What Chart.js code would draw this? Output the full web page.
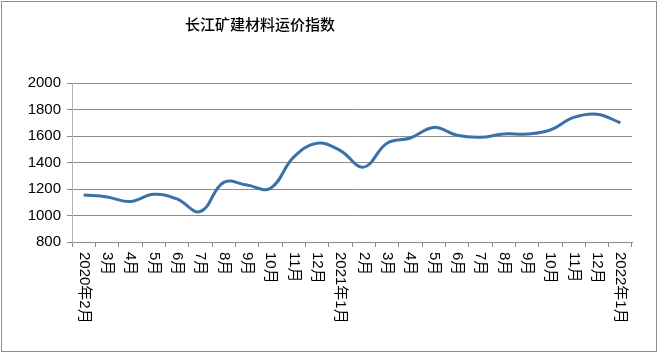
<!DOCTYPE html>
<html>
<head>
<meta charset="utf-8">
<script src="https://cdn.jsdelivr.net/npm/chart.js@4"></script>
<style>
  html, body { margin: 0; padding: 0; background: #fff; }
  #wrap { width: 662px; height: 354px; position: relative; }
</style>
</head>
<body>
<div id="wrap"><canvas id="myChart"></canvas></div>
<script>
var months = ['2020年2月', '3月', '4月', '5月', '6月', '7月', '8月', '9月', '10月', '11月', '12月',
              '2021年1月', '2月', '3月', '4月', '5月', '6月', '7月', '8月', '9月', '10月', '11月', '12月',
              '2022年1月'];
var freightIndex = [1155, 1140, 1105, 1160, 1125, 1030, 1250, 1230, 1205, 1440, 1545,
                    1490, 1365, 1545, 1585, 1665, 1605, 1590, 1615, 1615, 1645, 1740, 1765,
                    1700];
var yTicks = [800, 1000, 1200, 1400, 1600, 1800, 2000];
var chartTitle = '长江矿建材料运价指数';

// frame, title and the vertical month labels
var decor = {
  id: 'decor',
  beforeDraw: function (chart) {
    var ctx = chart.ctx;
    ctx.save();
    ctx.fillStyle = '#fff';
    ctx.fillRect(0, 0, chart.width, chart.height);
    ctx.strokeStyle = '#8c8c8c';
    ctx.lineWidth = 1;
    ctx.strokeRect(1.5, 1.5, 655, 350);
    ctx.restore();
  },
  afterDraw: function (chart) {
    var ctx = chart.ctx;
    var xs = chart.scales.x;
    ctx.save();
    ctx.fillStyle = '#000';
    ctx.font = '500 15px "Noto Sans CJK SC"';
    ctx.textAlign = 'center';
    ctx.textBaseline = 'middle';
    ctx.fillText(chartTitle, 260, 24);

    ctx.font = '15px "Liberation Sans", "Noto Sans CJK SC"';
    ctx.textAlign = 'left';
    ctx.textBaseline = 'middle';
    months.forEach(function (m, i) {
      var x = xs.getPixelForTick(i);
      ctx.save();
      ctx.translate(x, xs.top + 10);
      ctx.rotate(Math.PI / 2);
      ctx.fillText(m, 0, 0);
      ctx.restore();
    });
    ctx.restore();
  }
};

var data = {
  labels: months,
  datasets: [{
    data: freightIndex,
    borderColor: '#3a72a8',
    borderWidth: 3,
    pointRadius: 0,
    tension: 0.4,
    fill: false
  }]
};

var config = {
  type: 'line',
  data: data,
  options: {
    responsive: true,
    maintainAspectRatio: false,
    animation: false,
    layout: { padding: { top: 83, right: 30, left: 0, bottom: 0 } },
    plugins: {
      legend: { display: false },
      title: { display: false },
      tooltip: { enabled: false }
    },
    scales: {
      x: {
        offset: true,
        grid: { offset: true, drawOnChartArea: false, drawTicks: true, tickLength: 5, color: '#8c8c8c' },
        border: { color: '#8c8c8c' },
        ticks: { display: false },
        afterFit: function (s) { s.height = 112; }
      },
      y: {
        min: 800,
        max: 2000,
        afterBuildTicks: function (s) { s.ticks = yTicks.map(function (v) { return { value: v }; }); },
        grid: { color: '#8c8c8c', tickLength: 5 },
        border: { color: '#b4b4b4' },
        ticks: {
          color: '#000',
          padding: 6,
          font: { family: '"Liberation Sans"', size: 15 },
          callback: function (v) { return String(v); }
        },
        afterFit: function (s) { s.width = 72; }
      }
    }
  },
  plugins: [decor]
};

var myChart = new Chart(document.getElementById('myChart'), config);
</script>
</body>
</html>
